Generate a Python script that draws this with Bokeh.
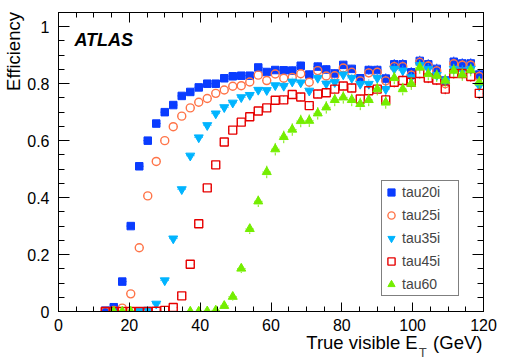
from bokeh.plotting import figure
from bokeh.models import (Range1d, LinearAxis, Label, Legend, LegendItem,
                          ColumnDataSource, FixedTicker, CustomJSTickFormatter)
from bokeh.embed import file_html
from bokeh.resources import INLINE

nan = float("nan")
NBSP = "\u00a0"

# Bin centres (True visible E_T, GeV)
et = [13.2, 15.6, 18.0, 20.4, 22.8, 25.2, 27.6, 30.0, 32.4, 34.8, 37.2, 39.6,
      42.0, 44.4, 46.8, 49.2, 51.6, 54.0, 56.4, 58.8, 61.2, 63.6, 66.0, 68.4,
      70.8, 73.2, 75.6, 78.0, 80.4, 82.8, 85.2, 87.6, 90.0, 92.4, 94.8, 97.2,
      99.6, 102.0, 104.4, 106.8, 109.2, 111.6, 114.0, 116.4, 118.8]

tau20i = [0.003, 0.015, 0.105, 0.30, 0.51, 0.60, 0.66, 0.70, 0.725, 0.757, 0.771, 0.787,
          0.80, 0.80, 0.819, 0.826, 0.828, 0.828, 0.857, 0.841, 0.848, 0.847, 0.846, 0.863,
          0.832, 0.86, 0.85, 0.836, 0.866, 0.852, 0.819, 0.848, 0.848, 0.818, 0.868, 0.868,
          0.84, 0.880, 0.868, 0.852, 0.811, 0.877, 0.871, 0.871, 0.832]

tau25i = [0.0, 0.004, 0.012, 0.062, 0.224, 0.406, 0.527, 0.60, 0.649, 0.686, 0.715, 0.735,
          0.748, 0.766, 0.778, 0.791, 0.793, 0.806, 0.830, 0.811, 0.834, 0.819, 0.822, 0.835,
          0.805, 0.846, 0.827, 0.828, 0.855, 0.84, 0.81, 0.838, 0.84, 0.81, 0.86, 0.86,
          0.83, 0.875, 0.862, 0.845, 0.80, 0.87, 0.865, 0.865, 0.825]

tau35i = [nan, nan, nan, nan, 0.001, 0.006, 0.027, 0.109, 0.256, 0.429, 0.547, 0.611,
          0.654, 0.695, 0.717, 0.733, 0.752, 0.760, 0.778, 0.777, 0.794, 0.792, 0.807, 0.804,
          0.775, 0.82, 0.80, 0.805, 0.832, 0.82, 0.799, 0.799, 0.82, 0.781, 0.852, 0.846,
          0.822, 0.865, 0.852, 0.83, 0.811, 0.852, 0.846, 0.852, 0.793]

tau45i = [0.0, 0.0, 0.0, 0.0, 0.0, 0.0, 0.001, 0.004, 0.014, 0.055, 0.166, 0.308,
          0.434, 0.515, 0.595, 0.637, 0.665, 0.684, 0.704, 0.715, 0.742, 0.743, 0.762, 0.753,
          0.723, 0.764, 0.768, 0.781, 0.792, 0.785, 0.746, 0.775, 0.781, 0.743, 0.805, 0.811,
          0.805, 0.836, 0.82, 0.813, 0.781, 0.836, 0.836, 0.825, 0.766]

tau60 = [nan, 0.0, 0.0, 0.0, nan, nan, nan, nan, nan, nan, 0.0, 0.0,
         0.001, 0.004, 0.020, 0.052, 0.151, 0.29, 0.387, 0.490, 0.570, 0.613, 0.639, 0.669,
         0.67, 0.696, 0.717, 0.743, 0.752, 0.743, 0.729, 0.743, 0.781, 0.734, 0.82, 0.781,
         0.80, 0.857, 0.834, 0.828, 0.811, 0.846, 0.832, 0.848, 0.805]

# statistical errors (estimated)
err = [0.003, 0.003, 0.003, 0.003, 0.003, 0.003, 0.003, 0.003, 0.003, 0.003, 0.006, 0.006,
       0.006, 0.006, 0.006, 0.006, 0.006, 0.006, 0.006, 0.006, 0.006, 0.014, 0.014, 0.014,
       0.014, 0.014, 0.014, 0.014, 0.014, 0.014, 0.014, 0.016, 0.016, 0.018, 0.018, 0.018,
       0.018, 0.018, 0.018, 0.018, 0.018, 0.018, 0.018, 0.018, 0.020]
err60 = [0.003, 0.003, 0.003, 0.003, 0.003, 0.003, 0.003, 0.003, 0.003, 0.003, 0.003, 0.003,
         0.003, 0.003, 0.012, 0.014, 0.016, 0.018, 0.020, 0.022, 0.022, 0.022, 0.022, 0.022,
         0.022, 0.022, 0.022, 0.022, 0.022, 0.022, 0.022, 0.022, 0.022, 0.022, 0.022, 0.022,
         0.022, 0.022, 0.022, 0.022, 0.022, 0.022, 0.022, 0.022, 0.022]
half_bin = 1.2

x_ticks = [0, 20, 40, 60, 80, 100, 120]
y_ticks = [0, 0.2, 0.4, 0.6, 0.8, 1.0]

FONT = "Liberation Sans"

p = figure(frame_width=425, frame_height=299,
           x_range=Range1d(0, 120), y_range=Range1d(0, 1.05),
           output_backend="svg", toolbar_location=None,
           min_border_left=52, min_border_right=14, min_border_top=12,
           min_border_bottom=40, x_axis_location=None, y_axis_location=None)
p.background_fill_color = "white"
p.border_fill_color = "white"
p.outline_line_color = "black"
p.outline_line_width = 1
p.grid.visible = False

xminor = [v * 5 for v in range(25)]
yminor = [v * 0.05 for v in range(22)]
fmt = CustomJSTickFormatter(code="return tick.toFixed(1).replace(/\\.0$/, '');")
blank = CustomJSTickFormatter(code="return '';")


def style(ax, major_in, minor_in, labels=True):
    ax.axis_line_color = "black"
    ax.major_tick_line_color = "black"
    ax.minor_tick_line_color = "black"
    ax.major_tick_in = major_in
    ax.major_tick_out = 0
    ax.minor_tick_in = minor_in
    ax.minor_tick_out = 0
    ax.major_label_text_font = FONT
    ax.major_label_text_color = "black"
    ax.axis_label_text_font = FONT
    ax.axis_label_text_font_style = "normal"
    ax.axis_label_text_color = "black"
    if labels:
        ax.major_label_text_font_size = "16px"
    else:
        ax.formatter = blank
        ax.major_label_text_font_size = "1px"
        ax.major_label_standoff = 0


# bottom axis with title (right-aligned with leading no-break spaces)
xb = LinearAxis(ticker=FixedTicker(ticks=x_ticks, minor_ticks=xminor))
style(xb, 9, 5)
xb.major_label_standoff = 7
xb.axis_label = NBSP * 48 + "True visible E" + NBSP * 3 + "(GeV)"
xb.axis_label_text_font_size = "18.5px"
xb.axis_label_standoff = -2
p.add_layout(xb, "below")

# subscript "T" of E_T as the label of a tick-less axis below
xs = LinearAxis(ticker=FixedTicker(ticks=[], minor_ticks=[]))
xs.axis_line_color = None
xs.major_tick_line_color = None
xs.minor_tick_line_color = None
xs.major_label_text_font_size = "1px"
xs.major_label_standoff = 0
xs.axis_label = NBSP * 84 + "T"
xs.axis_label_text_font = FONT
xs.axis_label_text_font_style = "normal"
xs.axis_label_text_font_size = "13px"
xs.axis_label_standoff = -11
p.add_layout(xs, "below")

xt = LinearAxis(ticker=FixedTicker(ticks=x_ticks, minor_ticks=xminor))
style(xt, 10, 5, labels=False)
p.add_layout(xt, "above")

yl = LinearAxis(ticker=FixedTicker(ticks=y_ticks, minor_ticks=yminor), formatter=fmt)
style(yl, 11, 6)
yl.major_label_standoff = 9
yl.axis_label = NBSP * 43 + "Efficiency"
yl.axis_label_text_font_size = "18.5px"
yl.axis_label_standoff = 0
p.add_layout(yl, "left")

yr = LinearAxis(ticker=FixedTicker(ticks=y_ticks, minor_ticks=yminor))
style(yr, 11, 6, labels=False)
p.add_layout(yr, "right")

series = [
    ("tau20i", tau20i, err, "square", "#0a3cff", True, 7.5),
    ("tau25i", tau25i, err, "circle", "#ff7448", False, 8),
    ("tau35i", tau35i, err, "inverted_triangle", "#00b4ff", True, 9),
    ("tau45i", tau45i, err, "square", "#e60000", False, 8),
    ("tau60", tau60, err60, "triangle", "#74ee00", True, 9),
]

gap_x = 1.0     # marker half-width in data units (error bars drawn outside marker)
gap_y = 0.012

items = []
for name, ys, es, marker, color, filled, size in series:
    yv0 = [y - e if e > gap_y else nan for y, e in zip(ys, es)]
    yv1 = [y - gap_y if e > gap_y else nan for y, e in zip(ys, es)]
    yv2 = [y + gap_y if e > gap_y else nan for y, e in zip(ys, es)]
    yv3 = [y + e if e > gap_y else nan for y, e in zip(ys, es)]
    src = ColumnDataSource(dict(
        x=et, y=ys,
        xl0=[x - half_bin for x in et], xl1=[x - gap_x for x in et],
        xr0=[x + gap_x for x in et], xr1=[x + half_bin for x in et],
        yv0=yv0, yv1=yv1, yv2=yv2, yv3=yv3,
    ))
    p.segment(x0="xl0", y0="y", x1="xl1", y1="y", source=src, line_color=color, line_width=1)
    p.segment(x0="xr0", y0="y", x1="xr1", y1="y", source=src, line_color=color, line_width=1)
    p.segment(x0="x", y0="yv0", x1="x", y1="yv1", source=src, line_color=color, line_width=1)
    p.segment(x0="x", y0="yv2", x1="x", y1="yv3", source=src, line_color=color, line_width=1)
    r = p.scatter("x", "y", source=src, marker=marker, size=size,
                  line_color=color, fill_color=color if filled else None,
                  line_width=1 if filled else 1.4)
    items.append(LegendItem(label=name, renderers=[r]))

legend = Legend(items=items, location=(323, 15), padding=0, spacing=1,
                glyph_width=18, glyph_height=22, label_height=22, label_width=56,
                label_standoff=2, label_text_font=FONT, label_text_font_size="14px",
                border_line_color="black", border_line_width=1,
                background_fill_color="white", background_fill_alpha=1.0)
p.add_layout(legend, "center")

p.add_layout(Label(x=4.5, y=0.919, text="ATLAS", text_font=FONT, text_font_size="18px",
                   text_font_style="bold italic", text_color="black"))

open("out.html", "w").write(file_html(p, INLINE))
